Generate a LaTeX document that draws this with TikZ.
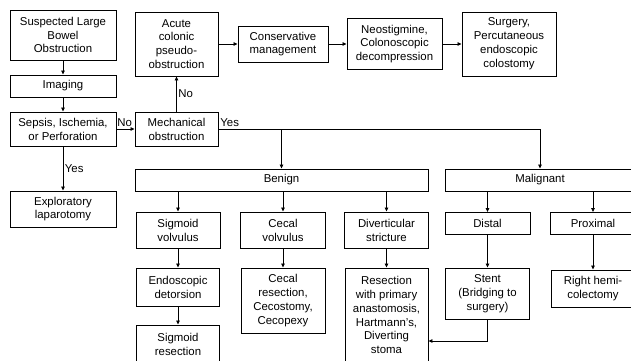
\documentclass[tikz,border=0pt]{standalone}
\usepackage{fontspec}
\setmainfont{Liberation Sans}
\usetikzlibrary{arrows.meta}
\tikzset{
  flowbox/.style={draw, line width=0.9pt, align=center, inner sep=2pt,
    font=\fontsize{11.4}{13.9}\selectfont},
  arr/.style={-{Triangle[length=4pt,width=3.5pt]}, line width=0.8pt},
  lbl/.style={font=\fontsize{11.4}{13}\selectfont, inner sep=1.5pt},
}

\begin{document}
\begin{tikzpicture}[x=1pt, y=-1pt]
  \useasboundingbox (0,0) rectangle (631,360);
  \clip (0,0) rectangle (631,360);

  % Work-up column
  \node[flowbox, minimum width=106pt, minimum height=50pt] (susp) at (63,35)
    {Suspected Large\\Bowel\\Obstruction};
  \node[flowbox, minimum width=106pt, minimum height=22pt] (img) at (63,86) {Imaging};
  \node[flowbox, minimum width=106pt, minimum height=34pt] (sepsis) at (63,129)
    {Sepsis, Ischemia,\\or Perforation};
  \node[flowbox, minimum width=106pt, minimum height=36pt] (explap) at (63,209)
    {Exploratory\\laparotomy};

  % Pseudo-obstruction branch
  \node[flowbox, minimum width=83pt, minimum height=34pt] (mech) at (176.5,129)
    {Mechanical\\obstruction};
  \node[flowbox, minimum width=83pt, minimum height=64pt] (acute) at (176.5,44)
    {Acute\\colonic\\pseudo-\\obstruction};
  \node[flowbox, minimum width=90pt, minimum height=36pt] (cons) at (283,44)
    {Conservative\\management};
  \node[flowbox, minimum width=95pt, minimum height=51pt] (neo) at (394.5,44)
    {Neostigmine,\\Colonoscopic\\decompression};
  \node[flowbox, minimum width=94pt, minimum height=64pt] (surg) at (509,44)
    {Surgery,\\Percutaneous\\endoscopic\\colostomy};

  % Benign / malignant
  \node[flowbox, minimum width=293pt, minimum height=22pt] (benign) at (281.5,180) {Benign};
  \node[flowbox, minimum width=190pt, minimum height=22pt] (malig) at (540,180) {Malignant};

  \node[flowbox, minimum width=84pt, minimum height=36pt] (sigv) at (178,230)
    {Sigmoid\\volvulus};
  \node[flowbox, minimum width=85pt, minimum height=36pt] (cecv) at (283,230)
    {Cecal\\volvulus};
  \node[flowbox, minimum width=84pt, minimum height=36pt] (divs) at (386.5,230)
    {Diverticular\\stricture};
  \node[flowbox, minimum width=85pt, minimum height=22pt] (distal) at (487.5,223.5) {Distal};
  \node[flowbox, minimum width=86pt, minimum height=22pt] (prox) at (593,223.5) {Proximal};

  % Treatments
  \node[flowbox, minimum width=83pt, minimum height=38pt] (endo) at (178,287)
    {Endoscopic\\detorsion};
  \node[flowbox, minimum width=83pt, minimum height=38pt] (sigres) at (178,344)
    {Sigmoid\\resection};
  \node[flowbox, minimum width=84pt, minimum height=65pt] (cecres) at (283,300.5)
    {Cecal\\resection,\\Cecostomy,\\Cecopexy};
  \node[flowbox, minimum width=83pt, minimum height=94pt] (resec) at (386.5,315)
    {Resection\\with primary\\anastomosis,\\Hartmann’s,\\Diverting\\stoma};
  \node[flowbox, minimum width=84pt, minimum height=51pt] (stent) at (487.5,293.5)
    {Stent\\(Bridging to\\surgery)};
  \node[flowbox, minimum width=84pt, minimum height=37pt] (rhemi) at (593,288.5)
    {Right hemi-\\colectomy};

  % Connectors
  \draw[arr] (susp) -- (img);
  \draw[arr] (img) -- (sepsis);
  \draw[arr] (sepsis) -- node[lbl, above, pos=0.45] {No} (mech);
  \draw[arr] (sepsis) -- node[lbl, right] {Yes} (explap);
  \draw[arr] (mech) -- node[lbl, right] {No} (acute);
  \draw[arr] (acute) -- (cons);
  \draw[arr] (cons) -- (neo);
  \draw[arr] (neo) -- (surg);

  \draw[arr] (mech.east) -| node[lbl, pos=0, anchor=south west] {Yes} (malig.north);
  \draw[arr] (mech -| benign) -- (benign);
  \foreach \c in {sigv,cecv,divs}
    \draw[arr] (benign.south -| \c) -- (\c);
  \foreach \c in {distal,prox}
    \draw[arr] (malig.south -| \c) -- (\c);

  \draw[arr] (sigv) -- (endo);
  \draw[arr] (endo) -- (sigres);
  \draw[arr] (cecv) -- (cecres);
  \draw[arr] (divs) -- (resec);
  \draw[arr] (distal) -- (stent);
  \draw[arr] (prox) -- (rhemi);
  \draw[arr] (stent.south) |- ([yshift=-26pt]resec.east);
\end{tikzpicture}
\end{document}
